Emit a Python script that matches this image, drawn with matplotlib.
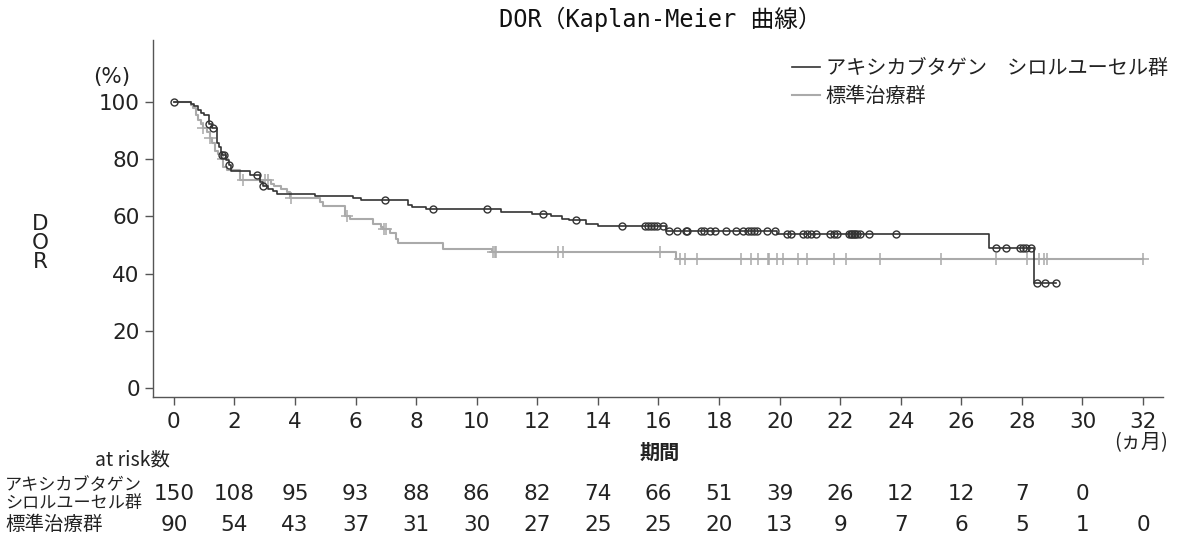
import matplotlib

matplotlib.use("Agg")
import matplotlib.pyplot as plt  # noqa: E402
import matplotlib.transforms as mtransforms  # noqa: E402
import numpy as np  # noqa: E402

plt.rcParams["font.family"] = ["Noto Sans CJK JP", "DejaVu Sans"]
NUM_FONT = ["DejaVu Sans", "Noto Sans CJK JP"]
MONO_FONT = ["DejaVu Sans Mono", "Noto Sans CJK JP"]

# --- KM step data (months, % still in response) ---
axicel_t = [0, 0.55, 0.65, 0.78, 0.9, 1.0, 1.15, 1.27, 1.43, 1.5, 1.57, 1.6, 1.72,
            1.82, 1.87, 2.51, 2.84, 2.93, 3.1, 3.28, 3.39, 4.66, 5.92, 6.19, 7.74,
            7.85, 8.34, 10.79, 11.84, 12.44, 12.8, 13.05, 13.62, 14.02, 16.25,
            19.93, 26.93, 28.4]
axicel_s = [100, 99.3, 98.6, 97.2, 96.2, 95.5, 92.2, 91.0, 85.6, 84.2, 82.5, 81.5, 79.8,
            78.0, 75.8, 74.5, 72.2, 70.6, 69.6, 68.9, 68.0, 67.2, 66.3, 65.9, 64.0,
            63.4, 62.6, 61.4, 60.7, 60.0, 59.3, 58.7, 57.4, 56.6, 55.0,
            53.9, 48.9, 36.8]
axicel_end = 29.14
axicel_cens = [0, 1.16, 1.28, 1.6, 1.65, 1.83, 2.73, 2.95, 6.97, 8.54, 10.34, 12.2,
               13.28, 14.8, 15.55, 15.65, 15.75, 15.85, 15.94, 16.16, 16.36, 16.6,
               16.9, 16.95, 17.39, 17.5, 17.7, 17.87, 18.23, 18.56, 18.8, 18.95,
               19.05, 19.15, 19.25, 19.57, 19.85, 20.25, 20.37, 20.78, 20.91, 21.05,
               21.2, 21.68, 21.8, 21.9, 22.3, 22.35, 22.4, 22.45, 22.5, 22.55, 22.66,
               22.95, 23.86, 27.16, 27.47, 27.94, 28.05, 28.15, 28.3, 28.49, 28.78,
               29.14]

std_t = [0, 0.55, 0.62, 0.72, 0.8, 0.9, 0.97, 1.1, 1.2, 1.27, 1.35, 1.45, 1.55, 1.63,
         1.75, 2.18, 3.2, 3.3, 3.55, 3.72, 3.85, 4.82, 4.93, 5.64, 5.8, 6.58, 6.85,
         6.92, 7.13, 7.35, 7.41, 8.87, 10.49, 16.58]
std_s = [100, 98.9, 97.8, 95.6, 93.7, 92.2, 90.8, 89.6, 87.5, 85.6, 83.0, 81.8, 80.0,
         77.4, 76.4, 72.6, 71.5, 70.5, 69.5, 68.7, 66.4, 65.1, 63.6, 60.1, 59.0, 57.5,
         56.4, 55.5, 54.1, 52.3, 50.8, 48.8, 47.7, 45.3]
std_end = 32.0
std_cens = [0.97, 1.2, 1.62, 2.29, 3.0, 3.1, 3.88, 5.7, 6.94, 7.0, 10.55, 10.6, 10.65,
            12.69, 12.86, 16.05, 16.71, 16.88, 17.26, 18.71, 19.07, 19.3, 19.63,
            19.66, 19.9, 20.1, 20.6, 20.91, 21.8, 22.19, 23.3, 25.33, 27.15, 28.18,
            28.58, 28.73, 28.84, 32.0]

# --- number at risk ---
risk_times = [0, 2, 4, 6, 8, 10, 12, 14, 16, 18, 20, 22, 24, 26, 28, 30, 32]
axicel_risk = [150, 108, 95, 93, 88, 86, 82, 74, 66, 51, 39, 26, 12, 12, 7, 0]
std_risk = [90, 54, 43, 37, 31, 30, 27, 25, 25, 20, 13, 9, 7, 6, 5, 1, 0]

axicel_name = "アキシカブタゲン　シロルユーセル群"
std_name = "標準治療群"

BLACK = "#333333"
GRAY = "#aaaaaa"
AXC = "#555555"
TXT = "#222222"


def level_at(times, levels, t):
    i = np.searchsorted(times, t, side="right") - 1
    return np.asarray(levels)[i]


def px(x, y):
    """pixel position (from top-left) -> figure fraction"""
    return x / 1180, 1 - y / 539


fig = plt.figure(figsize=(11.8, 5.39), dpi=100)
ax = fig.add_axes([153 / 1180, 1 - 397 / 539, (1163 - 153) / 1180, (397 - 40) / 539])

handles = []
for t, s, end, cens, col, lw, mk, name in [
    (axicel_t, axicel_s, axicel_end, axicel_cens, BLACK, 1.2, "o", axicel_name),
    (std_t, std_s, std_end, std_cens, GRAY, 1.5, "+", std_name),
]:
    xs = list(t) + [end]
    ys = list(s) + [s[-1]]
    zo = 3 if mk == "o" else 2
    h, = ax.step(xs, ys, where="post", color=col, lw=lw, label=name, zorder=zo)
    handles.append(h)
    cy = [level_at(t, s, c) for c in cens]
    if mk == "o":
        ax.plot(cens, cy, ls="none", marker="o", ms=5, mfc="none", mec=col, mew=1.0,
                zorder=zo)
    else:
        ax.plot(cens, cy, ls="none", marker="+", ms=8, mew=1.1, color=col, zorder=zo)

ax.set_xlim(-0.69, 32.66)
ax.set_ylim(-3.1, 121.7)
ax.set_xticks(range(0, 33, 2))
ax.set_yticks(range(0, 101, 20))
for side in ["top", "right"]:
    ax.spines[side].set_visible(False)
for side in ["left", "bottom"]:
    ax.spines[side].set_color(AXC)
    ax.spines[side].set_linewidth(1.0)
ax.tick_params(axis="both", colors=AXC, labelcolor=TXT, labelsize=15.5,
               length=6, width=1.0, direction="out")
ax.tick_params(axis="x", pad=5)
for lab in ax.get_xticklabels() + ax.get_yticklabels():
    lab.set_family(NUM_FONT)

fig.text(*px(660, 19), "DOR（Kaplan-Meier 曲線）", fontsize=17, ha="center",
         va="center", color="#111111", family=MONO_FONT)
fig.text(*px(112, 77), "(%)", fontsize=15.5, ha="center", va="center", color=TXT,
         family=NUM_FONT)
fig.text(*px(40, 243), "D\nO\nR", fontsize=15.5, ha="center", va="center",
         linespacing=0.92, color=TXT, family=NUM_FONT)
fig.text(*px(660, 452), "期間", fontsize=14.5, fontweight="bold",
         ha="center", va="center", color=TXT)
fig.text(*px(1141, 443), "(ヵ月)", fontsize=14.5, ha="center", va="center", color=TXT)

leg = ax.legend(handles=handles, loc="upper right",
                bbox_to_anchor=px(1168, 58), bbox_transform=fig.transFigure,
                frameon=False, fontsize=14.5, handlelength=1.4, handletextpad=0.3,
                labelspacing=0.35, borderaxespad=0, borderpad=0)
for txt in leg.get_texts():
    txt.set_color(TXT)

# --- risk table ---
tr = mtransforms.blended_transform_factory(ax.transData, fig.transFigure)
fig.text(*px(95, 460), "at risk数", fontsize=14, ha="left", va="center", color=TXT)
fig.text(*px(5, 494), "アキシカブタゲン\nシロルユーセル群", fontsize=12.3,
         ha="left", va="center", linespacing=1.05, color=TXT)
fig.text(*px(5, 525), std_name, fontsize=14, ha="left", va="center", color=TXT)
for row_y, counts in [(494, axicel_risk), (525, std_risk)]:
    for x, n in zip(risk_times, counts):
        ax.text(x, 1 - row_y / 539, str(n), transform=tr, fontsize=15.5, ha="center",
                va="center", color=TXT, family=NUM_FONT)

fig.savefig("out.png", dpi=100)
